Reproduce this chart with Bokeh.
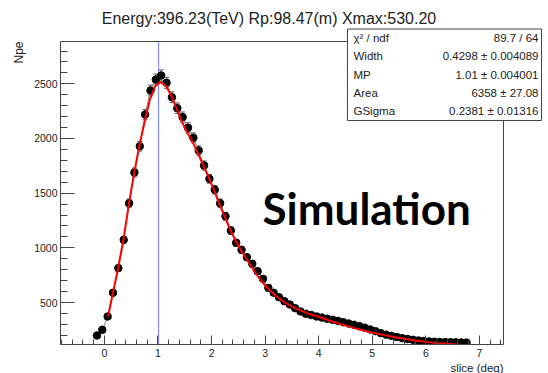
import math
from bokeh.plotting import figure
from bokeh.models import (Range1d, FixedTicker, Label, BoxAnnotation, Title,
                          Whisker, ColumnDataSource, TeeHead)
from bokeh.embed import file_html
from bokeh.resources import INLINE

# ---------------- data ----------------
slice_deg = [-0.14, -0.04, 0.06, 0.16, 0.26, 0.36, 0.46, 0.56, 0.66, 0.76,
             0.86, 0.96, 1.06, 1.16, 1.26, 1.36, 1.46, 1.56, 1.66, 1.76,
             1.86, 1.96, 2.06, 2.16, 2.26, 2.36, 2.46, 2.56, 2.66, 2.76,
             2.86, 2.96, 3.06, 3.16, 3.26, 3.36, 3.46, 3.56, 3.66, 3.76,
             3.86, 3.96, 4.06, 4.16, 4.26, 4.36, 4.46, 4.56, 4.66, 4.76,
             4.86, 4.96, 5.06, 5.16, 5.26, 5.36, 5.46, 5.56, 5.66, 5.76,
             5.86, 5.96, 6.06, 6.16, 6.26, 6.36, 6.46, 6.56, 6.66, 6.76]
npe = [198, 250, 372, 589, 814, 1073, 1408, 1689, 1929, 2219,
       2439, 2539, 2576, 2509, 2377, 2277, 2195, 2098, 2006, 1890,
       1753, 1631, 1531, 1408, 1289, 1158, 1046, 982, 914, 854,
       786, 717, 634, 589, 548, 512, 482, 448, 418, 397,
       385, 372, 362, 352, 342, 332, 320, 308, 296, 284,
       270, 254, 238, 220, 206, 195, 184, 174, 166, 159,
       153, 148, 144, 141, 139, 138, 137, 136, 135, 134]
npe_err = [14, 16, 19, 24, 29, 33, 38, 41, 44, 47,
           49, 50, 51, 50, 49, 48, 47, 46, 45, 43,
           42, 40, 39, 38, 36, 34, 32, 31, 30, 29,
           28, 27, 25, 24, 23, 23, 22, 21, 20, 20,
           20, 19, 19, 19, 18, 18, 18, 18, 17, 17,
           16, 16, 15, 15, 14, 14, 14, 13, 13, 13,
           12, 12, 12, 12, 12, 12, 12, 12, 12, 12]

fit_x = [0.07, 0.15, 0.25, 0.35, 0.45, 0.55, 0.65, 0.75, 0.85, 0.95,
         1.05, 1.15, 1.25, 1.35, 1.45, 1.55, 1.65, 1.75, 1.85, 1.95,
         2.05, 2.15, 2.25, 2.35, 2.45, 2.55, 2.65, 2.75, 2.85, 2.95,
         3.05, 3.2, 3.4, 3.6, 3.8, 4.0, 4.2, 4.4, 4.6, 4.8,
         5.0, 5.2, 5.4, 5.6, 5.8, 6.0, 6.2, 6.4, 6.6]
fit_y = [372, 570, 800, 1060, 1380, 1670, 1930, 2150, 2360, 2480,
         2515, 2480, 2390, 2270, 2150, 2050, 1965, 1860, 1750, 1640,
         1520, 1395, 1280, 1165, 1065, 975, 900, 825, 750, 685,
         630, 560, 490, 440, 400, 370, 335, 305, 275, 248,
         225, 204, 185, 168, 153, 140, 130, 122, 116]

mp_value = 1.01

x_major = [0, 1, 2, 3, 4, 5, 6, 7]
x_minor = [-0.8, -0.6, -0.4, -0.2, 0.2, 0.4, 0.6, 0.8, 1.2, 1.4, 1.6, 1.8,
           2.2, 2.4, 2.6, 2.8, 3.2, 3.4, 3.6, 3.8, 4.2, 4.4, 4.6, 4.8,
           5.2, 5.4, 5.6, 5.8, 6.2, 6.4, 6.6, 6.8, 7.2, 7.4]
y_major = [500, 1000, 1500, 2000, 2500]
y_minor = [200, 300, 400, 600, 700, 800, 900, 1100, 1200, 1300, 1400,
           1600, 1700, 1800, 1900, 2100, 2200, 2300, 2400, 2600, 2700, 2800]

title_text = "Energy:396.23(TeV) Rp:98.47(m) Xmax:530.20"
x_title = "slice (deg)"
y_title = "Npe"
stats_names = ["\u03c7\u00b2 / ndf", "Width", "MP", "Area", "GSigma"]
stats_values = ["89.7 / 64", "0.4298 \u00b1 0.004089", "1.01 \u00b1 0.004001",
                "6358 \u00b1 27.08", "0.2381 \u00b1 0.01316"]
overlay_text = "Simulation"

# ---------------- layout ----------------
W, H = 548, 373
FL, FB = 60, 344            # left / bottom edge of the drawing frame (canvas px)
AX_X = (-0.82, 7.45)        # axis extent (frame box of the original)
AX_Y = (116, 2887)
X_PER_PX = (AX_X[1] - AX_X[0]) / 443.0
Y_PER_PX = (AX_Y[1] - AX_Y[0]) / 303.0

def sx(X):
    return X - FL

def sy(Y):
    return FB - Y

# frame extends to the top and right canvas edges so annotations can be drawn there
p = figure(width=W, height=H, output_backend="svg", toolbar_location=None,
           x_range=Range1d(AX_X[0], AX_X[0] + (W - FL) * X_PER_PX),
           y_range=Range1d(AX_Y[0], AX_Y[0] + FB * Y_PER_PX),
           min_border_left=FL, min_border_right=0,
           min_border_top=0, min_border_bottom=H - FB,
           title_location=None)
p.background_fill_color = "white"
p.border_fill_color = "white"
p.grid.visible = False
p.outline_line_color = None

AX = "#444444"
FONT = "Liberation Sans"
for ax in (p.xaxis[0], p.yaxis[0]):
    ax.axis_line_color = AX
    ax.major_tick_line_color = AX
    ax.minor_tick_line_color = AX
    ax.major_tick_out = 0
    ax.minor_tick_out = 0
    ax.major_label_text_font = FONT
    ax.major_label_text_font_size = "10.5px"
    ax.major_label_text_color = "#222222"

p.xaxis.bounds = AX_X
p.yaxis.bounds = AX_Y
p.xaxis.ticker = FixedTicker(ticks=x_major, minor_ticks=x_minor)
p.yaxis.ticker = FixedTicker(ticks=y_major, minor_ticks=y_minor)
p.xaxis.major_tick_in = 9
p.xaxis.minor_tick_in = 5
p.yaxis.major_tick_in = 14
p.yaxis.minor_tick_in = 7
p.xaxis.major_label_standoff = 4
p.yaxis.major_label_standoff = 3

# axis titles (ROOT style: at the end of the axis)
p.add_layout(Title(text=x_title, align="right", offset=(W - 503), standoff=0,
                   text_font=FONT, text_font_size="11.5px", text_font_style="normal",
                   text_color="#222222"), "below")
p.add_layout(Title(text=y_title, align="right", offset=41, standoff=12,
                   text_font=FONT, text_font_size="12px", text_font_style="normal",
                   text_color="#222222"), "left")

# frame box of the original plot
p.add_layout(BoxAnnotation(left=AX_X[0], right=AX_X[1], bottom=AX_Y[0], top=AX_Y[1],
                           fill_alpha=0, line_color=AX, line_width=1, line_alpha=1.0))

# ---------------- glyphs ----------------
src = ColumnDataSource(dict(
    x=slice_deg, y=npe,
    upper=[v + e for v, e in zip(npe, npe_err)],
    lower=[v - e for v, e in zip(npe, npe_err)]))

p.segment(x0=[mp_value], y0=[AX_Y[0]], x1=[mp_value], y1=[AX_Y[1]],
          line_color="#8888ff", line_width=1.2)
p.line("x", "y", source=src, line_color="#888888", line_width=1)
p.add_layout(Whisker(source=src, base="x", upper="upper", lower="lower",
                     line_color="#555555", line_width=1,
                     upper_head=TeeHead(size=5, line_color="#555555", line_width=1),
                     lower_head=TeeHead(size=5, line_color="#555555", line_width=1)))
p.scatter("x", "y", source=src, size=7.5, marker="circle",
          fill_color="black", line_color="black")
p.line(fit_x, fit_y, line_color="#ff0000", line_width=2)

# ---------------- annotations ----------------
p.add_layout(BoxAnnotation(left=sx(347), right=sx(541), top=sy(28.5), bottom=sy(120),
                           left_units="screen", right_units="screen",
                           top_units="screen", bottom_units="screen",
                           fill_color="white", fill_alpha=1.0,
                           line_color=AX, line_width=1, line_alpha=1.0))
row_y = [37, 55.5, 74, 92, 110]
for name, val, yy in zip(stats_names, stats_values, row_y):
    p.add_layout(Label(x=sx(353), y=sy(yy), x_units="screen", y_units="screen",
                       text=name, text_align="left", text_baseline="middle",
                       text_font=FONT, text_font_size="11.5px", text_color="#222222"))
    p.add_layout(Label(x=sx(538), y=sy(yy), x_units="screen", y_units="screen",
                       text=val, text_align="right", text_baseline="middle",
                       text_font=FONT, text_font_size="11.5px", text_color="#222222"))

p.add_layout(Label(x=sx(268.5), y=sy(18), x_units="screen", y_units="screen",
                   text=title_text, text_align="center", text_baseline="middle",
                   text_font=FONT, text_font_size="16px", text_color="#222222"))

p.add_layout(Label(x=sx(262), y=sy(207.5), x_units="screen", y_units="screen",
                   text=overlay_text, text_align="left", text_baseline="alphabetic",
                   text_font="Lato", text_font_style="bold",
                   text_font_size="44px", text_color="black"))

open("out.html", "w").write(file_html(p, INLINE))
